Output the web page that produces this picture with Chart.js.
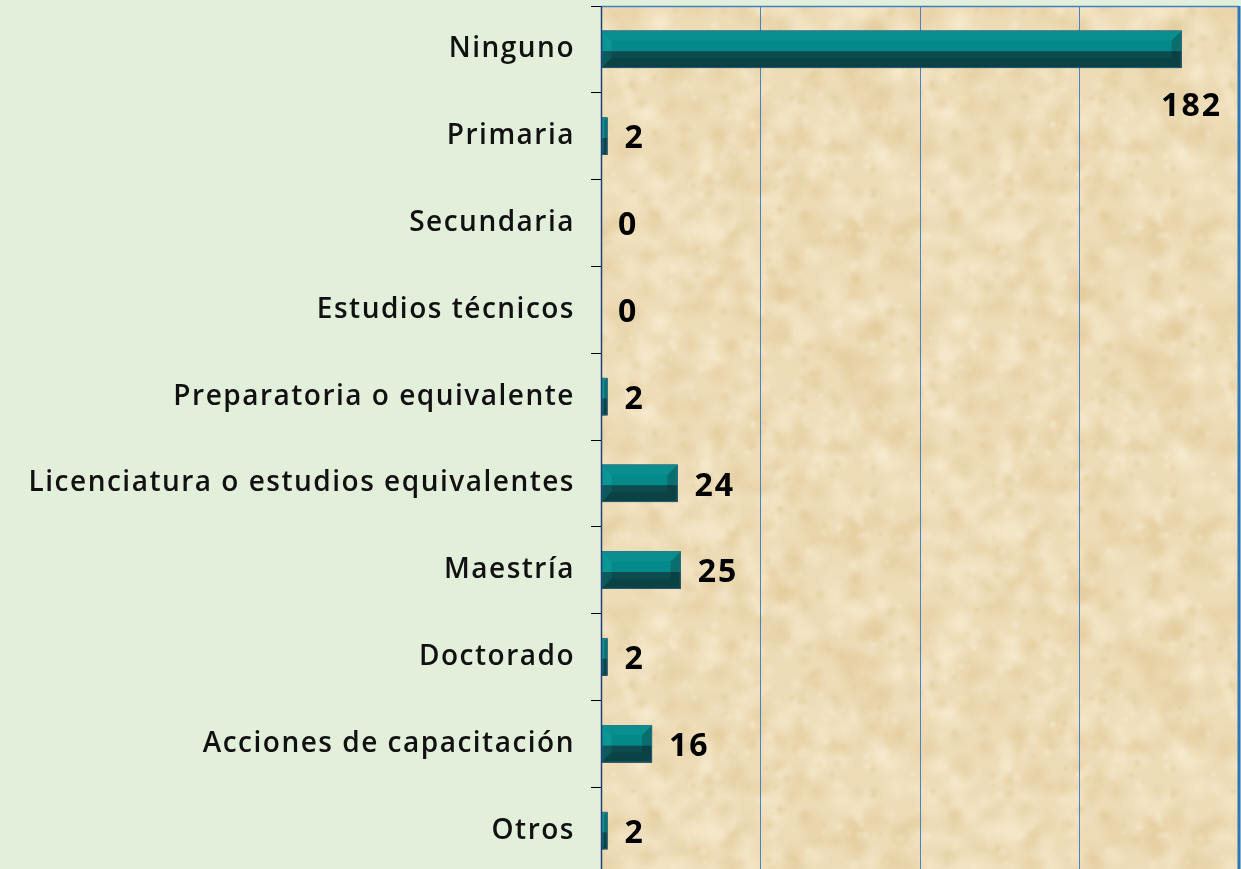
<!DOCTYPE html>
<html>
<head>
<meta charset="utf-8">
<script src="https://cdn.jsdelivr.net/npm/chart.js@4"></script>
<style>
html,body{margin:0;padding:0;background:#e2efda;overflow:hidden;}
#wrap{position:relative;width:1241px;height:875px;}
</style>
</head>
<body>
<div id="wrap"><canvas id="c" width="1241" height="875"></canvas></div>
<script>
const categories = ["Ninguno","Primaria","Secundaria","Estudios técnicos","Preparatoria o equivalente","Licenciatura o estudios equivalentes","Maestría","Doctorado","Acciones de capacitación","Otros"];
const values = [182,2,0,0,2,24,25,2,16,2];
const xTicks = [0,50,100,150,200];

// parchment texture (decorative only)
function makeTexture(){
  const N = 300;
  const t = document.createElement('canvas');
  t.width = N; t.height = N;
  const g = t.getContext('2d');
  g.fillStyle = '#eedcb7'; g.fillRect(0,0,N,N);
  let s = 11;
  function h(){ s = (s*16807) % 2147483647; return (s-1)/2147483646; }
  for(let i=0;i<420;i++){
    const x0=h()*N, y0=h()*N, r=3+h()*16;
    const light = h()>0.45;
    const c = light ? [248,238,212] : [224,200,150];
    for (const dx of [-N,0,N]) for (const dy of [-N,0,N]) {
      const x=x0+dx, y=y0+dy;
      if (x+r<0||x-r>N||y+r<0||y-r>N) continue;
      const gr = g.createRadialGradient(x,y,0,x,y,r);
      gr.addColorStop(0, `rgba(${c[0]},${c[1]},${c[2]},0.45)`);
      gr.addColorStop(1, `rgba(${c[0]},${c[1]},${c[2]},0)`);
      g.fillStyle = gr; g.beginPath(); g.arc(x,y,r,0,Math.PI*2); g.fill();
    }
  }
  return t;
}
const tex = makeTexture();

const bgPlugin = {
  id:'bg',
  beforeDraw(chart){
    const {ctx, chartArea:a} = chart;
    ctx.fillStyle = '#e2efda';
    ctx.fillRect(0,0,chart.width,chart.height);
    ctx.fillStyle = ctx.createPattern(tex,'repeat');
    ctx.fillRect(a.left,a.top,a.right-a.left,a.bottom-a.top);
    ctx.letterSpacing = '1.5px';
  },
  afterDraw(chart){
    const {ctx, chartArea:a} = chart;
    ctx.save();
    ctx.strokeStyle = '#3f7fc4'; ctx.lineWidth = 1.5;
    ctx.beginPath(); ctx.moveTo(a.left, a.top+0.5); ctx.lineTo(a.right, a.top+0.5); ctx.stroke();
    ctx.strokeStyle = '#2e75b6'; ctx.lineWidth = 3;
    ctx.beginPath(); ctx.moveTo(a.right, a.top); ctx.lineTo(a.right, a.bottom); ctx.stroke();
    ctx.strokeStyle = '#1f3f7a'; ctx.lineWidth = 1.5;
    ctx.beginPath(); ctx.moveTo(a.left+0.5, a.top); ctx.lineTo(a.left+0.5, a.bottom); ctx.stroke();
    ctx.restore();
  }
};

function poly(ctx, pts, fill){
  ctx.beginPath(); ctx.moveTo(pts[0][0],pts[0][1]);
  for(let i=1;i<pts.length;i++) ctx.lineTo(pts[i][0],pts[i][1]);
  ctx.closePath(); ctx.fillStyle = fill; ctx.fill();
}

const bevelPlugin = {
  id:'bevel',
  afterDatasetsDraw(chart){
    const {ctx} = chart;
    const meta = chart.getDatasetMeta(0);
    ctx.save();
    meta.data.forEach((bar)=>{
      const p = bar.getProps(['x','y','base','height'], true);
      const L = Math.min(p.base,p.x), R = Math.max(p.base,p.x);
      const T = p.y - p.height/2, B = p.y + p.height/2;
      const w = R-L, hh = B-T;
      if (w < 1) return;
      const b = Math.min(10, w/2, hh/3);
      const mid = T + hh*0.55;
      ctx.fillStyle = '#0e4b4e'; ctx.fillRect(L,T,w,hh);
      ctx.fillStyle = '#04898a'; ctx.fillRect(L,T,w,mid-T);
      poly(ctx, [[L,T],[R,T],[R-b,T+b],[L+b,T+b]], '#0a8f8f');
      poly(ctx, [[L,T],[L+b,T+b],[L+b,mid],[L,mid]], '#0b9594');
      poly(ctx, [[L,mid],[L+b,mid],[L+b,B-b],[L,B]], '#0d5a5c');
      poly(ctx, [[R,T],[R-b,T+b],[R-b,mid],[R,mid]], '#0a6e6f');
      poly(ctx, [[R,mid],[R-b,mid],[R-b,B-b],[R,B]], '#0a4144');
      poly(ctx, [[L,B],[R,B],[R-b,B-b],[L+b,B-b]], '#0a4245');
      ctx.strokeStyle = 'rgba(70,110,150,0.55)'; ctx.lineWidth = 1;
      ctx.strokeRect(L+0.5,T+0.5,w-1,hh-1);
    });
    ctx.restore();
  }
};

const labelPlugin = {
  id:'vals',
  afterDatasetsDraw(chart){
    const {ctx, chartArea:a} = chart;
    const meta = chart.getDatasetMeta(0);
    ctx.save();
    ctx.font = 'bold 32px "Open Sans", Lato, sans-serif';
    ctx.letterSpacing = '2px';
    ctx.fillStyle = '#000';
    ctx.textBaseline = 'middle';
    ctx.textAlign = 'left';
    meta.data.forEach((bar,i)=>{
      const txt = String(values[i]);
      const tw = ctx.measureText(txt).width - 2;
      let x = bar.x + 17, y = bar.y + 3;
      if (x + tw > a.right - 5){ x = chart.width - 21 - tw; y = bar.y + 57; }
      ctx.fillText(txt, x, y);
    });
    ctx.restore();
  }
};

new Chart(document.getElementById('c'), {
  type:'bar',
  data:{ labels: categories, datasets:[{ data: values, backgroundColor:'#0e4b4e', borderWidth:0, categoryPercentage:1, barPercentage:0.43 }] },
  options:{
    indexAxis:'y',
    responsive:false,
    animation:false,
    events:[],
    layout:{ padding:{ top:6, right:2, left:0, bottom:1 } },
    plugins:{ legend:{display:false}, tooltip:{enabled:false} },
    scales:{
      x:{
        min:0, max:200,
        afterBuildTicks(scale){ scale.ticks = xTicks.map(v=>({value:v})); },
        ticks:{ display:false },
        border:{ display:false },
        grid:{ drawTicks:false, color:'#4a80c4', lineWidth:1 },
        afterFit(scale){ scale.height = 0; scale.paddingLeft = 0; scale.paddingRight = 0; }
      },
      y:{
        offset:true,
        ticks:{ color:'#111', padding:16, font:{ family:'"Open Sans", Lato, sans-serif', size:28, weight:'600' } },
        grid:{ offset:true, drawOnChartArea:false, drawTicks:true, tickLength:10, color:'#000', lineWidth:1 },
        border:{ display:false },
        afterFit(scale){ scale.width = 601; scale.paddingTop = 0; scale.paddingBottom = 0; }
      }
    }
  },
  plugins:[bgPlugin, bevelPlugin, labelPlugin]
});
</script>
</body>
</html>
